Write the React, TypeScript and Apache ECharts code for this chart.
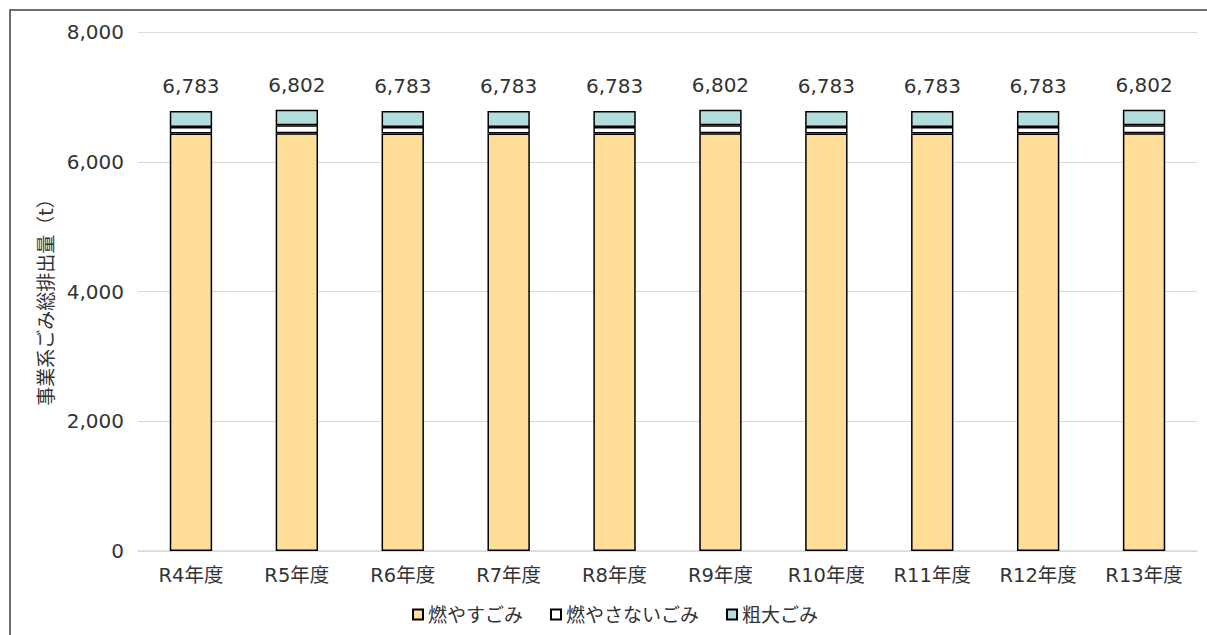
import React, { useEffect, useRef } from "react";
import * as echarts from "echarts";

const categories = ["R4年度", "R5年度", "R6年度", "R7年度", "R8年度", "R9年度", "R10年度", "R11年度", "R12年度", "R13年度"];
const burnable = [6435, 6441, 6435, 6435, 6435, 6441, 6435, 6435, 6435, 6441];
const nonBurnable = [100, 123, 100, 100, 100, 123, 100, 100, 100, 123];
const bulky = [248, 238, 248, 248, 248, 238, 248, 248, 248, 238];
const totals = [6783, 6802, 6783, 6783, 6783, 6802, 6783, 6783, 6783, 6802];
const seriesNames = ["燃やすごみ", "燃やさないごみ", "粗大ごみ"];
const yTicks = [0, 2000, 4000, 6000, 8000];

const FONT = "'DejaVu Sans', 'Noto Sans CJK JP', sans-serif";
const TXT = "#333333";

export default function App() {
  const ref = useRef<HTMLDivElement>(null);
  useEffect(() => {
    if (!ref.current) return;
    const chart = echarts.init(ref.current, null, { renderer: "svg" });
    const barBorder = { borderColor: "#000000", borderWidth: 1.5 };
    chart.setOption({
      animation: false,
      backgroundColor: "#ffffff",
      textStyle: { fontFamily: FONT, color: TXT },
      graphic: [
        {
          type: "rect",
          shape: { x: 10, y: 10, width: 1400, height: 800 },
          style: { fill: "none", stroke: "#404040", lineWidth: 1.5 },
          silent: true,
        },
      ],
      grid: { left: 138, right: 10, top: 32, bottom: 84, containLabel: false },
      legend: {
        bottom: 6,
        left: 407,
        itemWidth: 10,
        itemHeight: 10,
        itemGap: 27,
        icon: "rect",
        textStyle: { fontSize: 19, fontFamily: FONT, color: TXT },
        data: seriesNames,
      },
      xAxis: {
        type: "category",
        data: categories,
        axisLine: { show: true, lineStyle: { color: "#d9d9d9", width: 1.5 } },
        axisTick: { show: false },
        axisLabel: { fontSize: 19.5, color: TXT, margin: 15, fontFamily: FONT },
      },
      yAxis: {
        type: "value",
        min: yTicks[0],
        max: yTicks[yTicks.length - 1],
        interval: 2000,
        name: "事業系ごみ総排出量（t）",
        nameLocation: "middle",
        nameGap: 82,
        nameRotate: 90,
        nameTextStyle: { fontSize: 19, color: TXT, fontFamily: FONT, padding: [0, 12, 0, 0] },
        axisLine: { show: false },
        axisTick: { show: false },
        splitLine: { lineStyle: { color: "#d9d9d9", width: 1 } },
        axisLabel: {
          fontSize: 20,
          color: TXT,
          margin: 14,
          fontFamily: FONT,
          formatter: (v: number) => v.toLocaleString("en-US"),
        },
      },
      series: [
        {
          name: seriesNames[0],
          type: "bar",
          stack: "total",
          barWidth: "40%",
          data: burnable,
          itemStyle: { color: "#FFDE9A", ...barBorder },
        },
        {
          name: seriesNames[1],
          type: "bar",
          stack: "total",
          data: nonBurnable,
          itemStyle: { color: "#FFFFFF", ...barBorder },
        },
        {
          name: seriesNames[2],
          type: "bar",
          stack: "total",
          data: bulky,
          itemStyle: { color: "#B4DEDE", ...barBorder },
          label: {
            show: true,
            position: "top",
            distance: 15,
            fontSize: 20,
            color: TXT,
            fontFamily: FONT,
            formatter: (p: any) => totals[p.dataIndex].toLocaleString("en-US"),
          },
        },
      ],
    });
    return () => chart.dispose();
  }, []);
  return (
    <div
      ref={ref}
      style={{ position: "fixed", left: 0, top: 0, width: 1207, height: 635 }}
    />
  );
}
